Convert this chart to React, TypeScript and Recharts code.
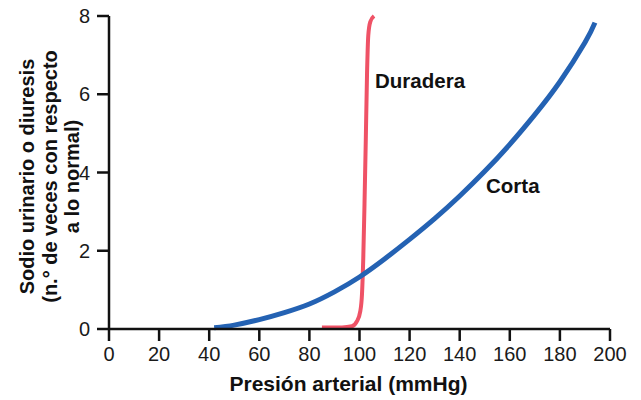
import { LineChart, Line, XAxis, YAxis, ReferenceDot } from "recharts";

// presión arterial (mmHg) vs. sodio urinario (veces lo normal)
const cortaX = [42, 50, 60, 70, 80, 90, 100, 110, 120, 130, 140, 150, 160, 170, 180, 190, 194];
const cortaY = [0.03, 0.1, 0.24, 0.42, 0.64, 0.95, 1.33, 1.79, 2.29, 2.82, 3.4, 4.03, 4.72, 5.48, 6.32, 7.32, 7.83];

const duraderaX = [85, 93, 97, 99, 100.3, 101, 101.5, 102, 102.5, 103, 103.5, 104.3, 105.8];
const duraderaY = [0.04, 0.04, 0.07, 0.2, 0.45, 0.9, 1.8, 3.2, 4.8, 6.5, 7.5, 7.85, 8.0];

const xTicks = [0, 20, 40, 60, 80, 100, 120, 140, 160, 180, 200];
const yTicks = [0, 2, 4, 6, 8];

const corta = cortaX.map((x, i) => ({ x, y: cortaY[i] }));
const duradera = duraderaX.map((x, i) => ({ x, y: duraderaY[i] }));

const FONT = "'Liberation Sans', Arial, sans-serif";
const axisLine = { stroke: "#111", strokeWidth: 2.5 };

function YTitle({ viewBox }: any) {
  const cx = 50;
  const cy = viewBox.y + viewBox.height / 2 + 4;
  const lines = ["Sodio urinario o diuresis", "(n.° de veces con respecto", "a lo normal)"];
  return (
    <text
      transform={`rotate(-90, ${cx}, ${cy})`}
      x={cx}
      y={cy}
      textAnchor="middle"
      fontFamily={FONT}
      fontWeight="bold"
      fontSize={20}
      fill="#111"
    >
      {lines.map((l, i) => (
        <tspan key={i} x={cx} dy={i === 0 ? -16 : 22.5}>
          {l}
        </tspan>
      ))}
    </text>
  );
}

function XTitle({ viewBox }: any) {
  return (
    <text
      x={viewBox.x + viewBox.width / 2 - 11}
      y={383}
      textAnchor="middle"
      dominantBaseline="central"
      fontFamily={FONT}
      fontWeight="bold"
      fontSize={21}
      fill="#111"
    >
      Presión arterial (mmHg)
    </text>
  );
}

function CurveLabel({ viewBox, value }: any) {
  return (
    <text
      x={viewBox.x}
      y={viewBox.y + viewBox.height / 2}
      dominantBaseline="central"
      fontFamily={FONT}
      fontWeight="bold"
      fontSize={20.5}
      fill="#111"
    >
      {value}
    </text>
  );
}

export default function App() {
  return (
    <div style={{ position: "absolute", left: 0, top: 0, background: "#fff" }}>
      <LineChart width={641} height={400} margin={{ top: 16, right: 31, bottom: 0, left: 0 }}>
        <XAxis
          type="number"
          dataKey="x"
          domain={[0, 200]}
          ticks={xTicks}
          interval={0}
          height={71}
          tickSize={12}
          tickMargin={6}
          axisLine={axisLine}
          tickLine={axisLine}
          tick={{ fontFamily: FONT, fontSize: 20, fill: "#1a1a1a" }}
          label={{ content: XTitle }}
        />
        <YAxis
          type="number"
          dataKey="y"
          domain={[0, 8]}
          ticks={yTicks}
          interval={0}
          width={109}
          tickSize={12}
          tickMargin={7}
          axisLine={axisLine}
          tickLine={axisLine}
          tick={{ fontFamily: FONT, fontSize: 20, fill: "#1a1a1a" }}
          label={{ content: YTitle }}
        />
        <Line
          data={duradera}
          dataKey="y"
          type="monotone"
          stroke="#ef5266"
          strokeWidth={4}
          dot={false}
          isAnimationActive={false}
        />
        <Line
          data={corta}
          dataKey="y"
          type="natural"
          stroke="#2462b3"
          strokeWidth={5}
          dot={false}
          isAnimationActive={false}
        />
        <ReferenceDot x={106.6} y={6.36} r={1} fill="none" stroke="none" label={{ value: "Duradera", content: CurveLabel }} />
        <ReferenceDot x={150.9} y={3.67} r={1} fill="none" stroke="none" label={{ value: "Corta", content: CurveLabel }} />
      </LineChart>
    </div>
  );
}
